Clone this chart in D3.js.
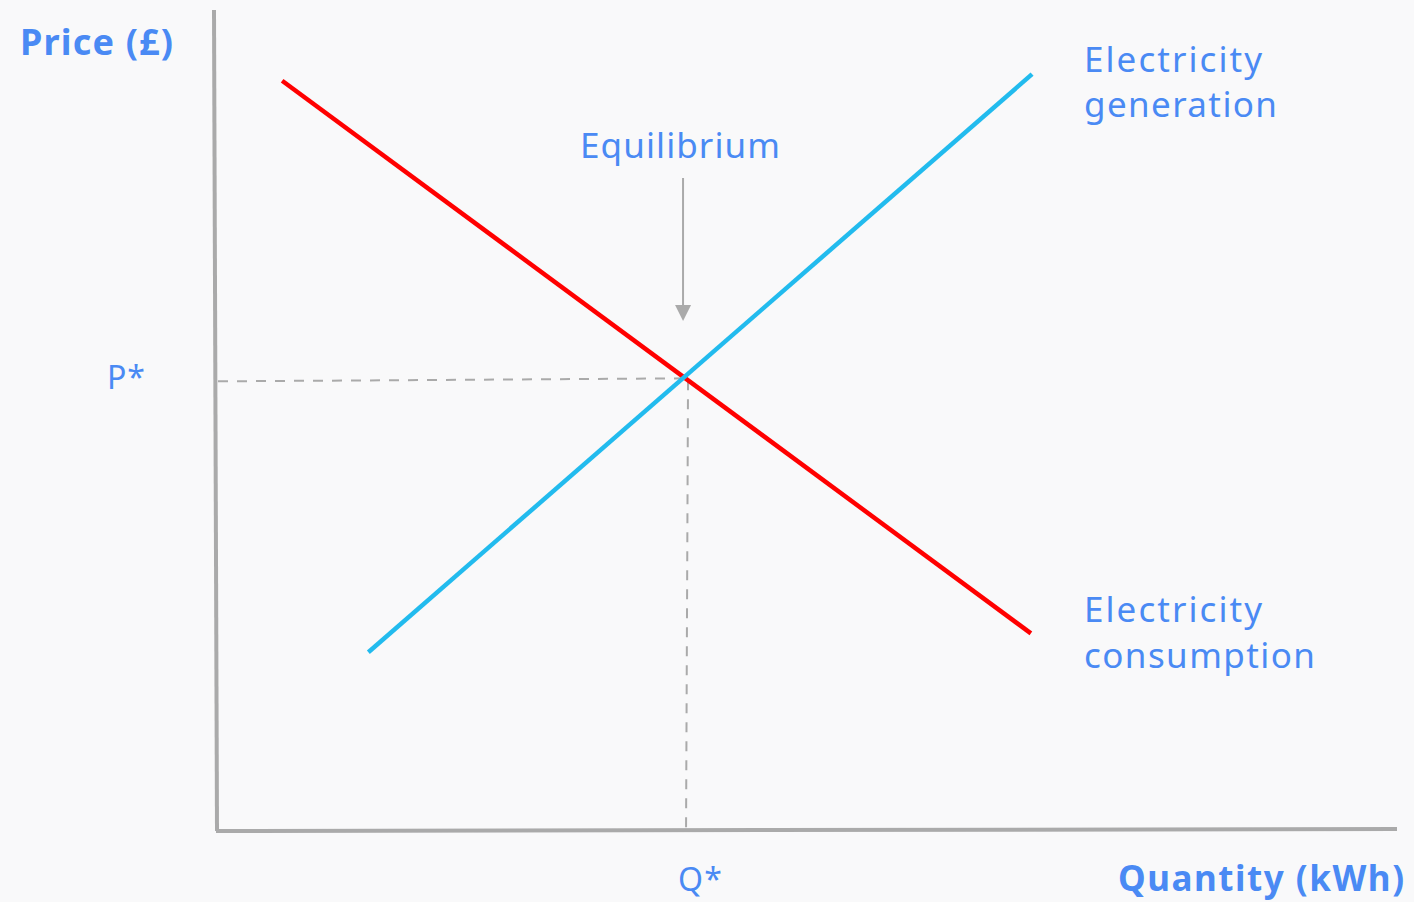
<!DOCTYPE html>
<html>
<head>
<meta charset="utf-8">
<script src="https://cdn.jsdelivr.net/npm/d3@7"></script>
<style>
  html, body { margin: 0; padding: 0; background: #f9f9fa; }
  svg { display: block; }
  text { font-family: "Noto Sans", Lato, sans-serif; fill: #4a8af4; }
</style>
</head>
<body>
<div id="chart"></div>
<script>
// quantity / price in abstract units (0..100)
const demandQ = [5.6, 69.0];      // Electricity consumption
const demandP = [91.5, 24.1];
const supplyQ = [12.9, 69.1];     // Electricity generation
const supplyP = [21.8, 92.3];
const eqQ = 39.8;
const eqP = 55.2;
const labels = {
  yTitle: "Price (£)",
  xTitle: "Quantity (kWh)",
  pStar: "P*",
  qStar: "Q*",
  eq: "Equilibrium",
  supply: ["Electricity", "generation"],
  demand: ["Electricity", "consumption"]
};
// widths the labels take in the picture
const supplyWidths = [178, 193];
const demandWidths = [178, 231];

const width = 1414, height = 902;
const svg = d3.select("#chart").append("svg").attr("width", width).attr("height", height);

// scales - plot area from axis corner to ends of axes
const x = d3.scaleLinear().domain([0, 100]).range([216, 1397]);
const y = d3.scaleLinear().domain([0, 100]).range([831, 11]);

const gray = "#aaaaaa";

// dashed guide lines
svg.append("line")
  .attr("x1", x(0) + 2).attr("y1", y(eqP) + 3)
  .attr("x2", x(eqQ)).attr("y2", y(eqP))
  .style("stroke", gray).style("stroke-width", 2).style("stroke-dasharray", "10,9");
svg.append("line")
  .attr("x1", x(eqQ) + 2).attr("y1", y(eqP) + 2)
  .attr("x2", x(eqQ)).attr("y2", y(0))
  .style("stroke", gray).style("stroke-width", 2).style("stroke-dasharray", "10,9");

// axes
svg.append("line")
  .attr("x1", x(0) - 2).attr("y1", y(100) - 1)
  .attr("x2", x(0) + 1).attr("y2", y(0))
  .style("stroke", gray).style("stroke-width", 4);
svg.append("line")
  .attr("x1", x(0)).attr("y1", y(0))
  .attr("x2", x(100)).attr("y2", y(0) - 2)
  .style("stroke", gray).style("stroke-width", 4);

// curves
const line = d3.line().x(d => x(d[0])).y(d => y(d[1]));
svg.append("path")
  .attr("d", line(d3.zip(demandQ, demandP)))
  .style("fill", "none").style("stroke", "#ff0000").style("stroke-width", 4.5);
svg.append("path")
  .attr("d", line(d3.zip(supplyQ, supplyP)))
  .style("fill", "none").style("stroke", "#22bbee").style("stroke-width", 4.5);

// arrow to equilibrium
const ax = x(eqQ) - 3;
svg.append("line")
  .attr("x1", ax).attr("y1", 178)
  .attr("x2", ax).attr("y2", 308)
  .style("stroke", gray).style("stroke-width", 2);
svg.append("path")
  .attr("d", `M${ax - 8},305 L${ax + 8},305 L${ax},321 Z`)
  .style("fill", gray);

// text
function label(txt, px, py, size, w, bold, anchor) {
  const t = svg.append("text").attr("x", px).attr("y", py).text(txt)
    .style("font-size", size + "px")
    .style("font-weight", bold ? "bold" : "normal")
    .attr("text-anchor", anchor || "start");
  if (w) t.attr("textLength", w).attr("lengthAdjust", "spacing");
  return t;
}
label(labels.yTitle, 20, 55, 36, 153, true);
label(labels.xTitle, 1404, 891, 35, 286, true, "end");
label(labels.pStar, 107, 389, 32, 38);
label(labels.qStar, 678, 891, 32, 44);
label(labels.eq, 580, 158, 35, 200);

labels.supply.forEach((d, i) => label(d, 1084, 72 + i * 45, 35, supplyWidths[i]));
labels.demand.forEach((d, i) => label(d, 1084, 622 + i * 46, 35, demandWidths[i]));
</script>
</body>
</html>
